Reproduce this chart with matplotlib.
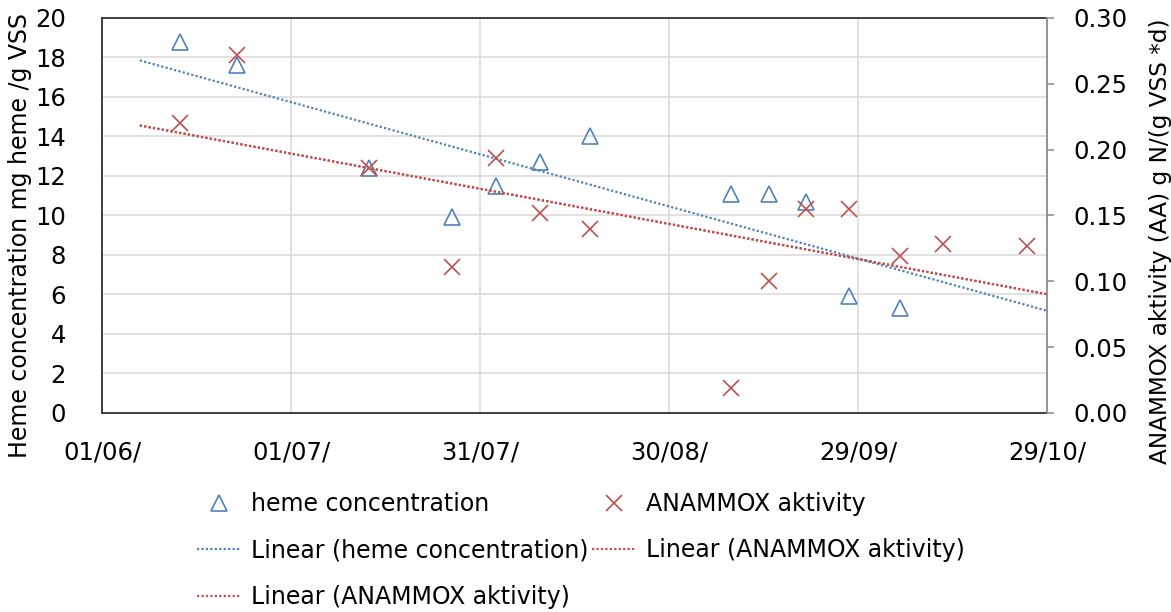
import numpy as np
import matplotlib
matplotlib.use("Agg")
import matplotlib.pyplot as plt

# sampling days, counted from 01/06
heme_day = [12.4, 21.5, 42.4, 55.6, 62.5, 69.6, 77.5, 99.8, 105.8, 111.7, 118.5, 126.7]
heme_conc = [18.8, 17.6, 12.4, 9.9, 11.5, 12.7, 14.0, 11.1, 11.1, 10.7, 5.9, 5.3]

aa_day = [12.4, 21.5, 42.4, 55.6, 62.5, 69.6, 77.5, 99.8, 105.8, 111.7, 118.5,
          126.7, 133.5, 146.8]
aa_value = [0.220, 0.272, 0.186, 0.111, 0.194, 0.152, 0.140, 0.019, 0.100,
            0.155, 0.155, 0.119, 0.128, 0.127]

date_ticks = [0, 30, 60, 90, 120, 150]
date_labels = ['01/06/', '01/07/', '31/07/', '30/08/', '29/09/', '29/10/']

blue = '#4f81bd'
red = '#c0504d'
dot = (0, (1, 1))

plt.rcParams['font.family'] = 'DejaVu Sans'

fig = plt.figure(figsize=(11.71, 6.12), dpi=100)
ax = fig.add_axes([0.0871, 0.3252, 0.8070, 0.6454])
ax2 = ax.twinx()

# trend lines (least squares), drawn a few days before the first sample
trend_x = np.array([6.0, 150.0])
k1, b1 = np.polyfit(heme_day, heme_conc, 1)
k2, b2 = np.polyfit(aa_day, aa_value, 1)

h_pts, = ax.plot(heme_day, heme_conc, linestyle='none', marker='^', ms=11.5,
                 mfc='none', mec=blue, mew=1.2, zorder=4)
h_lin, = ax.plot(trend_x, k1 * trend_x + b1, color=blue, lw=1.6,
                 linestyle=dot, zorder=3)

a_pts, = ax2.plot(aa_day, aa_value, linestyle='none', marker='x', ms=11,
                  mec=red, mew=1.2, zorder=4)
a_lin, = ax2.plot(trend_x, k2 * trend_x + b2, color=red, lw=1.6,
                  linestyle=dot, zorder=3)
a_lin2, = ax2.plot(trend_x, k2 * trend_x + b2, color=red, lw=1.6,
                   linestyle=dot, zorder=3)

ax.set_xlim(0, 150)
ax.set_ylim(0, 20)
ax2.set_ylim(0, 0.30)
ax.set_xticks(date_ticks)
ax.set_xticklabels(date_labels)
ax.set_yticks(np.arange(0, 21, 2))
ax2.set_yticks(np.arange(0, 0.31, 0.05))
ax2.set_yticklabels(['%.2f' % v for v in np.arange(0, 0.31, 0.05)])

ax.grid(True, color='#d9d9d9', lw=1.1)
ax.set_axisbelow(True)

ax.tick_params(axis='x', length=0, pad=20, labelsize=17.5)
ax.tick_params(axis='y', length=0, pad=26, labelsize=17.5)
ax2.tick_params(axis='y', length=5, width=1.1, color='#8c8c8c', pad=14,
                labelsize=17.5)

for s in ['top', 'left', 'bottom']:
    ax.spines[s].set_color('#333333')
    ax.spines[s].set_linewidth(1.3)
    ax2.spines[s].set_visible(False)
ax.spines['right'].set_visible(False)
ax2.spines['right'].set_color('#8c8c8c')
ax2.spines['right'].set_linewidth(1.3)

fig.text(20 / 1171, 1 - 236 / 612, 'Heme concentration mg heme /g VSS',
         rotation=90, ha='center', va='center', fontsize=17)
fig.text(1160 / 1171, 1 - 241 / 612, 'ANAMMOX aktivity (AA) g N/(g VSS *d)',
         rotation=90, ha='center', va='center', fontsize=16.7)

leg_kw = dict(loc='upper left', frameon=False, fontsize=17, borderpad=0,
              borderaxespad=0, handlelength=1.85, handletextpad=0.45,
              labelspacing=0.95)
fig.legend([h_pts, h_lin, a_lin2],
           ['heme concentration', 'Linear (heme concentration)',
            'Linear (ANAMMOX aktivity)'],
           bbox_to_anchor=(197 / 1171, 1 - 492 / 612), **leg_kw)
fig.legend([a_pts, a_lin],
           ['ANAMMOX aktivity', 'Linear (ANAMMOX aktivity)'],
           bbox_to_anchor=(592 / 1171, 1 - 492 / 612), **leg_kw)

fig.savefig('out.png', dpi=100)
